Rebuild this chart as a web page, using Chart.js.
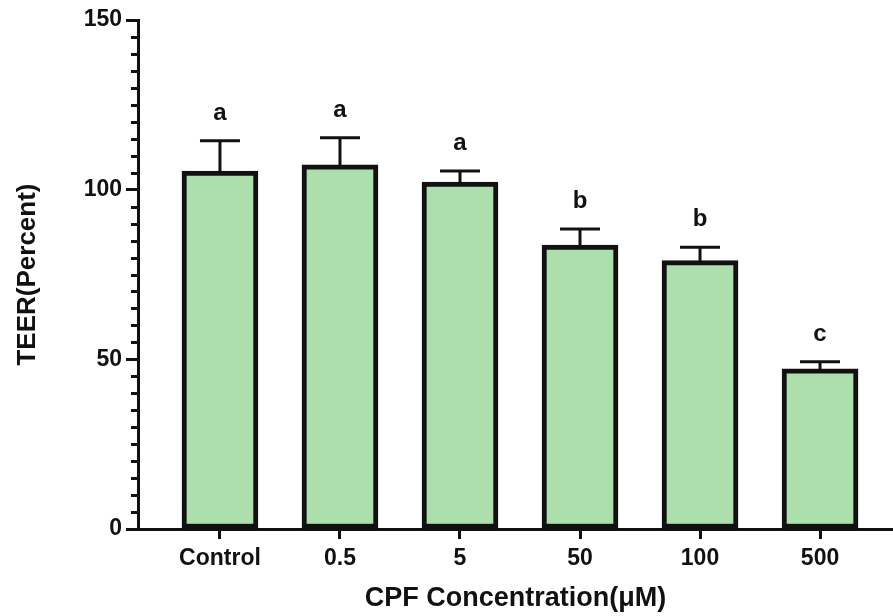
<!DOCTYPE html>
<html>
<head>
<meta charset="utf-8">
<script src="https://cdn.jsdelivr.net/npm/chart.js@4/dist/chart.umd.min.js"></script>
<style>
  html, body { margin: 0; padding: 0; background: #fff; }
  #wrap { width: 893px; height: 616px; }
</style>
</head>
<body>
<div id="wrap"><canvas id="c" width="893" height="616"></canvas></div>
<script>
// TEER after CPF exposure: mean, SEM and significance letters per group
const categories = ['Control', '0.5', '5', '50', '100', '500'];
const teerMean   = [105.5, 107.3, 102.2, 83.7, 79.1, 47.2];
const teerSem    = [8.9, 8.0, 3.3, 4.7, 3.9, 2.1];
const sigLetters = ['a', 'a', 'a', 'b', 'b', 'c'];
const yTicks     = [0, 50, 100, 150];

const FONT = "'Liberation Sans', Arial, Helvetica, sans-serif";
const INK = '#111';

// error bars, significance letters and minor y ticks
const extras = {
  id: 'extras',
  afterDatasetsDraw(chart) {
    const ctx = chart.ctx;
    const x = chart.scales.x, y = chart.scales.y;
    ctx.save();
    ctx.strokeStyle = INK;
    ctx.fillStyle = INK;
    ctx.lineWidth = 3;
    ctx.lineCap = 'butt';
    teerMean.forEach((m, i) => {
      const px = x.getPixelForValue(i);
      const yTop = y.getPixelForValue(m + teerSem[i]);
      const yBar = y.getPixelForValue(m) + 2;
      ctx.beginPath();
      ctx.moveTo(px, yBar);
      ctx.lineTo(px, yTop);
      ctx.moveTo(px - 20, yTop);
      ctx.lineTo(px + 20, yTop);
      ctx.stroke();
      ctx.font = 'bold 24px ' + FONT;
      ctx.textAlign = 'center';
      ctx.textBaseline = 'alphabetic';
      ctx.fillText(sigLetters[i], px, yTop - 21);
    });
    // minor ticks every 5 units
    const ax = chart.chartArea.left;
    ctx.beginPath();
    for (let v = 5; v < 150; v += 5) {
      if (v % 50 === 0) continue;
      const py = Math.round(y.getPixelForValue(v)) + 0.5;
      ctx.moveTo(ax - 7, py);
      ctx.lineTo(ax, py);
    }
    ctx.stroke();
    ctx.restore();
  }
};

new Chart(document.getElementById('c'), {
  type: 'bar',
  data: {
    datasets: [{
      data: teerMean.map((v, i) => ({ x: i, y: v })),
      backgroundColor: '#addfad',
      borderColor: INK,
      borderWidth: 5,
      borderSkipped: false,
      barThickness: 76
    }]
  },
  options: {
    responsive: false,
    devicePixelRatio: 1,
    animation: false,
    layout: { padding: { top: 20, right: 0, bottom: 0, left: 0 } },
    plugins: { legend: { display: false }, tooltip: { enabled: false } },
    scales: {
      x: {
        type: 'linear',
        min: -0.683,
        max: 5.608,
        offset: false,
        afterBuildTicks(scale) { scale.ticks = categories.map((_, i) => ({ value: i })); },
        afterFit(scale) { scale.height = 87; },
        grid: { display: true, drawOnChartArea: false, drawTicks: true, tickLength: 10, tickWidth: 3, tickColor: INK, offset: false },
        border: { display: true, color: INK, width: 3 },
        ticks: {
          autoSkip: false,
          maxRotation: 0,
          padding: 6,
          color: INK,
          font: { family: FONT, size: 23, weight: 'bold' },
          callback: (v) => categories[Math.round(v)]
        },
        title: {
          display: true,
          text: 'CPF Concentration(μM)',
          color: INK,
          font: { family: FONT, size: 27, weight: 'bold' },
          padding: { top: 0, bottom: 1 }
        }
      },
      y: {
        min: 0,
        max: 150,
        afterBuildTicks(scale) { scale.ticks = yTicks.map(v => ({ value: v })); },
        afterFit(scale) { scale.width = 138; },
        grid: { display: true, drawOnChartArea: false, drawTicks: true, tickLength: 12, tickWidth: 3, tickColor: INK },
        border: { display: true, color: INK, width: 3 },
        ticks: {
          padding: 4,
          color: INK,
          font: { family: FONT, size: 23, weight: 'bold' }
        },
        title: {
          display: true,
          text: 'TEER(Percent)',
          color: INK,
          font: { family: FONT, size: 26, weight: 'bold' },
          padding: { top: 12, bottom: 0 }
        }
      }
    }
  },
  plugins: [extras]
});
</script>
</body>
</html>
